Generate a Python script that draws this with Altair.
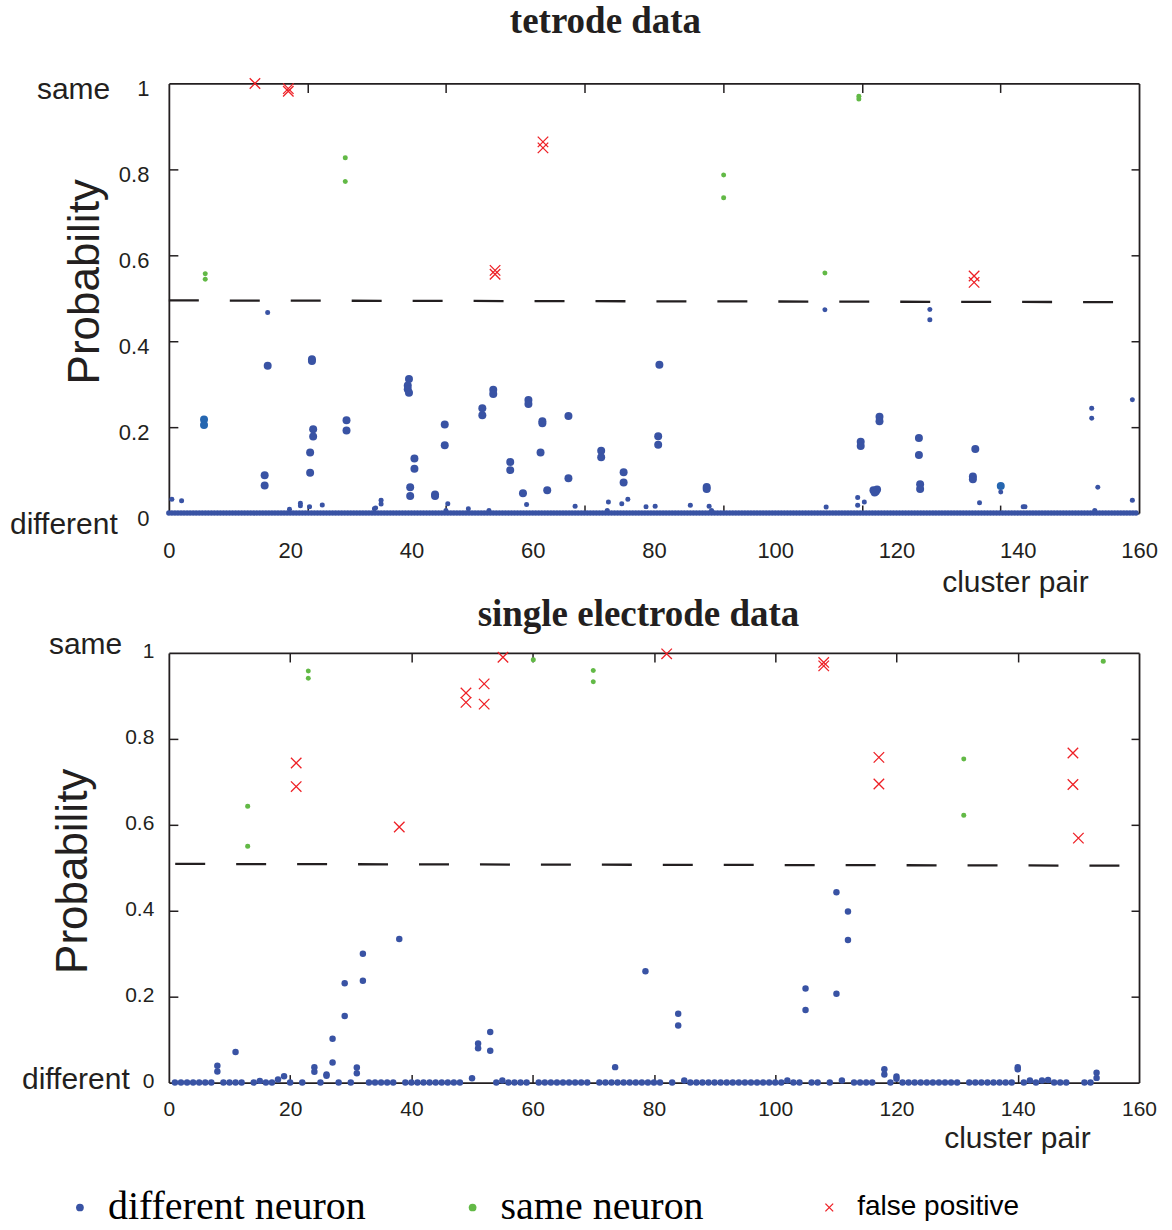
import altair as alt
import pandas as pd

W, H = 971, 430
BLUE = "#3953a4"
LBLUE = "#2566b0"
GREEN = "#62b946"
RED = "#ee2026"
INK = "#231f20"
KINDS = ["different neuron", "same neuron", "false positive"]
XPATH = "M-1,-1L1,1M-1,1L1,-1"

# ---------------- tetrode data (top panel) ----------------
top_zero_x = [i / 2 for i in range(320)]          # pairs sitting at probability 0
top_small = [(0.5, 0.032), (2.1, 0.029), (16.3, 0.467), (19.9, 0.009), (21.7, 0.023),
             (21.7, 0.017), (23.2, 0.015), (25.3, 0.019), (34.1, 0.012), (35.0, 0.030),
             (35.0, 0.021), (33.9, 0.010), (46.0, 0.022), (45.7, 0.006), (49.4, 0.010),
             (52.8, 0.006), (59.0, 0.020), (67.0, 0.016), (72.5, 0.026), (72.3, 0.006),
             (74.7, 0.022), (75.7, 0.032), (78.7, 0.015), (80.2, 0.016), (86.0, 0.018),
             (89.1, 0.016), (89.5, 0.006), (108.2, 0.473), (108.4, 0.014), (113.6, 0.036),
             (113.6, 0.018), (114.7, 0.026), (125.5, 0.474), (125.5, 0.450), (133.7, 0.024),
             (137.2, 0.049), (140.9, 0.015), (141.2, 0.015), (152.2, 0.244), (152.2, 0.221),
             (153.2, 0.060), (152.7, 0.006), (158.9, 0.264), (158.9, 0.030)]
top_big = [(15.8, 0.088), (15.8, 0.064), (16.3, 0.343), (23.6, 0.358), (23.6, 0.354),
           (23.8, 0.195), (23.8, 0.178), (23.3, 0.141), (23.3, 0.094), (29.3, 0.216),
           (29.3, 0.192), (39.6, 0.312), (39.4, 0.297), (39.4, 0.288), (39.6, 0.280),
           (40.5, 0.127), (40.5, 0.103), (39.8, 0.060), (39.8, 0.040), (43.9, 0.043),
           (43.9, 0.040), (45.5, 0.206), (45.5, 0.158), (51.7, 0.244), (51.7, 0.228),
           (53.5, 0.287), (53.5, 0.277), (56.3, 0.119), (56.3, 0.100), (58.4, 0.046),
           (59.3, 0.263), (59.3, 0.254), (61.6, 0.214), (61.6, 0.209), (61.3, 0.141),
           (62.4, 0.053), (65.9, 0.226), (65.9, 0.081), (71.3, 0.145), (71.3, 0.130),
           (75.0, 0.095), (75.0, 0.071), (80.9, 0.345), (80.7, 0.179), (80.7, 0.159),
           (88.7, 0.061), (88.7, 0.056), (114.1, 0.166), (114.1, 0.156), (117.2, 0.224),
           (117.2, 0.214), (116.2, 0.053), (116.6, 0.050), (116.8, 0.055), (116.4, 0.048),
           (123.7, 0.175), (123.7, 0.135), (123.9, 0.067), (123.9, 0.056), (133.0, 0.149),
           (132.6, 0.085), (132.6, 0.079)]
top_light = [(5.8, 0.218), (5.8, 0.205), (137.2, 0.063)]
top_same = [(6.0, 0.557), (6.0, 0.544), (29.1, 0.827), (29.1, 0.772), (91.5, 0.787),
            (91.5, 0.734), (108.2, 0.559), (113.8, 0.970), (113.8, 0.964)]
top_fp = [(14.2, 1.0), (19.7, 0.988), (19.7, 0.982), (53.8, 0.565), (53.8, 0.556),
          (61.7, 0.864), (61.7, 0.850), (132.8, 0.552), (132.8, 0.537)]
top_dash_x = [0.0, 156.4]
top_dash_y = [0.495, 0.491]

# ---------------- single electrode data (bottom panel) ----------------
bot_zero_x = [1, 2, 3, 4, 5, 6, 7, 9, 10, 11, 12, 14, 16, 17, 20, 22, 25, 28, 30, 33, 34,
              35, 36, 37, 39, 40, 41, 42, 43, 44, 45, 46, 47, 48, 54, 56, 57, 58, 59, 61,
              62, 63, 64, 65, 66, 67, 68, 69, 71, 72, 73, 74, 75, 76, 77, 78, 79, 80, 81,
              83, 86, 87, 88, 89, 90, 91, 92, 93, 94, 95, 96, 97, 98, 99, 100, 101, 103,
              104, 106, 107, 109, 113, 114, 115, 116, 119, 121, 122, 123, 124, 125, 126,
              127, 128, 129, 130, 132, 133, 134, 135, 136, 137, 138, 139, 141, 143, 146,
              147, 148, 151, 152]
bot_diff = [(8, 0.039), (8, 0.026), (11, 0.071), (15, 0.004), (18, 0.007), (19, 0.015),
            (24, 0.036), (24, 0.025), (26, 0.019), (26, 0.016), (27, 0.102), (27, 0.047),
            (29, 0.231), (29, 0.155), (31, 0.035), (31, 0.022), (32, 0.300), (32, 0.237),
            (38, 0.334), (50, 0.010), (51, 0.091), (51, 0.080), (53, 0.118), (53, 0.074),
            (55, 0.005), (73.6, 0.036), (78.6, 0.259), (84, 0.160), (84, 0.133), (85, 0.005),
            (102, 0.005), (105, 0.219), (105, 0.169), (110.1, 0.443), (110.1, 0.207),
            (111, 0.005), (112, 0.398), (112, 0.332), (118, 0.031), (118, 0.019),
            (120, 0.014), (120, 0.009), (140, 0.036), (140, 0.031), (142, 0.005),
            (144, 0.005), (145, 0.006), (153, 0.023), (153, 0.011)]
bot_same = [(13.0, 0.643), (13.0, 0.550), (23.0, 0.958), (23.0, 0.941), (60.1, 0.984),
            (70.0, 0.959), (70.0, 0.933), (131.1, 0.753), (131.1, 0.622), (154.1, 0.981)]
bot_fp = [(21.0, 0.744), (21.0, 0.689), (38.0, 0.595), (49.0, 0.907), (49.0, 0.885),
          (52.0, 0.928), (52.0, 0.881), (55.1, 0.990), (82.1, 0.998), (108.0, 0.978),
          (108.0, 0.970), (117.1, 0.757), (117.1, 0.695), (149.1, 0.767), (149.1, 0.694),
          (150.0, 0.569)]
bot_dash_x = [1.05, 156.9]
bot_dash_y = [0.509, 0.505]

# tick positions
x_label_values = [0, 20, 40, 60, 80, 100, 120, 140, 160]
top_frame_ticks = [160 * k / 7 for k in range(1, 7)]
bot_frame_ticks = [20, 40, 60, 80, 100, 120, 140]
y_label_values = [0, 0.2, 0.4, 0.6, 0.8, 1]
y_frame_ticks = [0.2, 0.4, 0.6, 0.8]


def pts(pairs, kind, sz):
    return pd.DataFrame({"x": [p[0] for p in pairs], "y": [p[1] for p in pairs],
                         "kind": kind, "sz": sz})


xs = alt.Scale(domain=[0, 160], nice=False, zero=False)
ys = alt.Scale(domain=[0, 1], nice=False, zero=False)
one = pd.DataFrame({"k": [0]})

IS_FP = "datum.label == 'false positive'"
legend = alt.Legend(
    orient="none", legendX=-109, legendY=1105, direction="horizontal", columns=3,
    columnPadding=86, title=None,
    labelFont=alt.ExprRef(expr=IS_FP + " ? 'Liberation Sans' : 'Liberation Serif'"),
    labelFontSize=alt.ExprRef(expr=IS_FP + " ? 28 : 40"),
    labelOffset=alt.ExprRef(expr=IS_FP + " ? 8 : 8"),
    symbolOffset=alt.ExprRef(expr=IS_FP + " ? 19 : 0"),
    labelLimit=600, labelColor="#000000", labelBaseline="middle",
    symbolSize=60, symbolStrokeWidth=1.3, clipHeight=40, padding=0)


def text(t, x, y, size, font="Liberation Sans", weight="normal", align="left",
         baseline="alphabetic"):
    return alt.Chart(one).mark_text(
        text=t, font=font, fontSize=size, fontWeight=weight, align=align,
        baseline=baseline, color=INK).encode(x=alt.value(x), y=alt.value(y))


def panel(zero_x, zero_size, point_df, dash_x, dash_y, frame_ticks, lab_fs, xpad, ypad,
          yoff, title_x, title_y, extra_layers):
    ax_x_lab = alt.Axis(orient="bottom", values=x_label_values, ticks=False, tickSize=0,
                        domain=True, domainColor=INK, domainWidth=1.8, labels=True,
                        labelFont="Liberation Sans", labelFontSize=lab_fs, labelPadding=xpad,
                        labelColor=INK, labelFlush=False, labelOverlap=False, grid=False,
                        title=None)
    ax_y_lab = alt.Axis(orient="left", values=y_label_values, format=".1~f", ticks=False,
                        tickSize=0, domain=True, domainColor=INK, domainWidth=1.8,
                        labelFont="Liberation Sans", labelFontSize=lab_fs, labelPadding=ypad,
                        labelOffset=yoff, labelColor=INK, labelFlush=False,
                        labelOverlap=False, grid=False, title="Probability",
                        titleFont="Liberation Sans", titleFontSize=44,
                        titleFontWeight="normal", titleColor=INK, titleAngle=270,
                        titleAlign="center", titleBaseline="middle", titleX=title_x,
                        titleY=title_y)
    ax_x_in = alt.Axis(orient="top", offset=-H, values=frame_ticks, labels=False,
                       domain=False, ticks=True, tickSize=8, tickColor=INK, tickWidth=1.5,
                       grid=False, title=None)
    ax_y_in = alt.Axis(orient="right", offset=-W, values=y_frame_ticks, labels=False,
                       domain=False, ticks=True, tickSize=9, tickColor=INK, tickWidth=1.5,
                       grid=False, title=None)
    ax_x_top = alt.Axis(orient="bottom", offset=-H, values=frame_ticks, labels=False,
                        domain=True, domainColor=INK, domainWidth=1.8, ticks=True,
                        tickSize=9, tickColor=INK, tickWidth=1.5, grid=False, title=None)
    ax_y_right = alt.Axis(orient="left", offset=-W, values=y_frame_ticks, labels=False,
                          domain=True, domainColor=INK, domainWidth=1.8, ticks=True,
                          tickSize=8, tickColor=INK, tickWidth=1.5, grid=False, title=None)

    zero = alt.Chart(pd.DataFrame({"x": zero_x, "y": 0.0})).mark_point(
        filled=True, shape="circle", size=zero_size, color=BLUE, opacity=1).encode(
        x=alt.X("x:Q", scale=xs, axis=ax_x_in), y=alt.Y("y:Q", scale=ys, axis=ax_y_in))

    points = alt.Chart(point_df).mark_point(filled=True, strokeWidth=1.3, opacity=1).encode(
        x=alt.X("x:Q", scale=xs, axis=ax_x_lab),
        y=alt.Y("y:Q", scale=ys, axis=ax_y_lab),
        fill=alt.Fill("kind:N", scale=alt.Scale(domain=KINDS, range=[BLUE, GREEN, RED]),
                      legend=legend),
        stroke=alt.Stroke("kind:N", scale=alt.Scale(domain=KINDS,
                                                    range=["transparent", "transparent", RED]),
                          legend=legend),
        shape=alt.Shape("kind:N", scale=alt.Scale(domain=KINDS,
                                                  range=["circle", "circle", XPATH]),
                        legend=legend),
        size=alt.Size("sz:Q", scale=None))

    dash = alt.Chart(pd.DataFrame({"x": dash_x, "y": dash_y})).mark_line(
        strokeDash=[30, 31], strokeWidth=2.3, color=INK).encode(
        x=alt.X("x:Q", scale=xs, axis=ax_x_top), y=alt.Y("y:Q", scale=ys, axis=ax_y_right))

    layers = extra_layers["before"] + [zero] + extra_layers["mid"] + [points, dash] + extra_layers["text"]
    return alt.layer(*layers).properties(width=W, height=H).resolve_axis(
        x="independent", y="independent")


# top panel
top_df = pd.concat([pts(top_small, KINDS[0], 25), pts(top_big, KINDS[0], 64),
                    pts(top_same, KINDS[1], 25), pts(top_fp, KINDS[2], 110)],
                   ignore_index=True)
anchor = alt.Chart(one).mark_rect(opacity=0).encode(
    x=alt.value(-168.5), x2=alt.value(1003.5), y=alt.value(-82), y2=alt.value(1148))
light = alt.Chart(pts(top_light, KINDS[0], 64)).mark_point(
    filled=True, shape="circle", size=64, color=LBLUE, opacity=1).encode(
    x=alt.X("x:Q", scale=xs, axis=None), y=alt.Y("y:Q", scale=ys, axis=None))
top = panel(top_zero_x, 30, top_df, top_dash_x, top_dash_y, top_frame_ticks, 22, 27, 20, 5,
            -83, 198,
            {"before": [anchor], "mid": [light],
             "text": [text("tetrode data", 437, -79, 37, "Liberation Serif", "bold", "center",
                           "top"),
                      text("same", -132, 16, 30),
                      text("different", -159, 451, 30),
                      text("cluster pair", 774, 509, 30)]})

# bottom panel
bot_df = pd.concat([pts(bot_diff, KINDS[0], 42), pts(bot_same, KINDS[1], 25),
                    pts(bot_fp, KINDS[2], 110)], ignore_index=True)
bottom = panel(bot_zero_x, 42, bot_df, bot_dash_x, bot_dash_y, bot_frame_ticks, 21, 16, 15, -1,
               -95, 218,
               {"before": [], "mid": [],
                "text": [text("single electrode data", 470, -56, 37, "Liberation Serif", "bold",
                              "center", "top"),
                         text("same", -120, 1, 30),
                         text("different", -147, 436, 30),
                         text("cluster pair", 776, 495, 30)]})

chart = alt.vconcat(top, bottom, spacing=140, bounds="flush").properties(
    padding=0, background="white").configure(font="Liberation Sans").configure_view(
    stroke="transparent")

chart.save("out.html", embed_options={"renderer": "svg", "actions": False})
